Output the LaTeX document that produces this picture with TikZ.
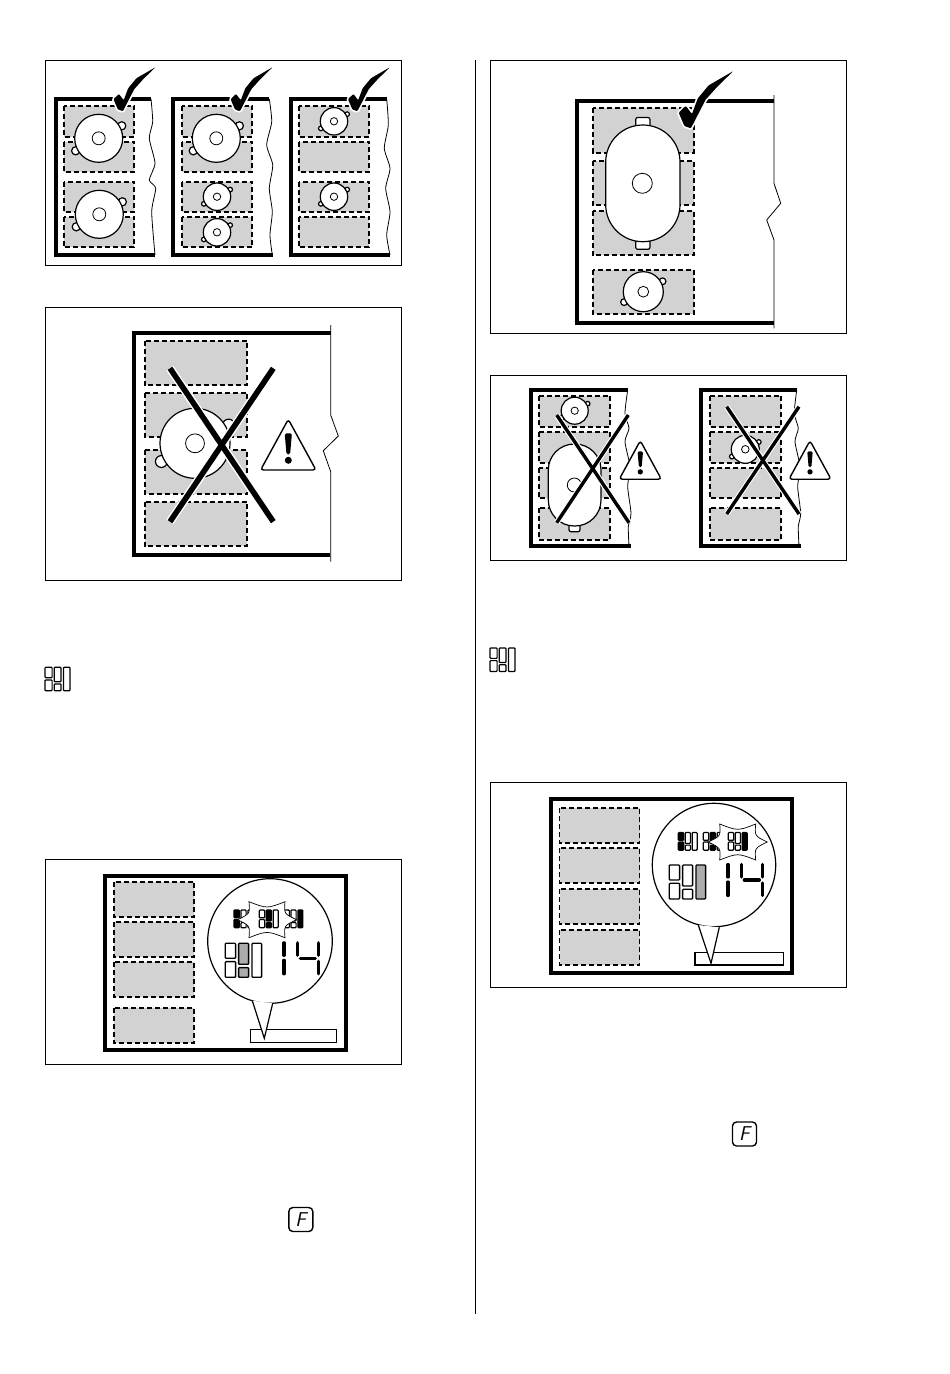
\documentclass[tikz,border=0pt]{standalone}
\definecolor{zonegrey}{RGB}{210,210,210}
\definecolor{icongrey}{RGB}{172,172,172}
\tikzset{
  boxframe/.style={draw=black, line width=0.8pt},
  hobline/.style={draw=black, line width=4pt},
  cutline/.style={draw=black, line width=0.8pt},
  zone/.style={draw=black, fill=zonegrey, line width=1.7pt, dash pattern=on 5pt off 3pt},
  panline/.style={draw=black, fill=white, line width=1.2pt},
  crosshalo/.style={draw=white, line cap=square},
  crossbar/.style={draw=black},
  tickmark/.style={fill=black, rounded corners=1pt, preaction={draw=white, line width=3.4pt}},
  segline/.style={draw=black, line width=3.3pt, line cap=round},
  iconpart/.style={draw=black, rounded corners=0.8pt},
  fkey/.style={draw=black, line width=1.4pt, rounded corners=4pt, minimum width=24pt, minimum height=24pt,
    inner sep=0pt, font=\fontsize{20}{20}\selectfont\sffamily\itshape},
}
\newcommand{\pan}[2]{
  \begin{scope}[shift={(#1)}]
    \draw[panline] ({.96*#2},{-.52*#2}) circle[radius={.17*#2}];
    \draw[panline] ({-.96*#2},{.52*#2}) circle[radius={.17*#2}];
    \draw[panline] (0,0) circle[radius=#2];
    \draw[panline, line width=0.8pt] (0,0) circle[radius={.27*#2}];
  \end{scope}
}
\newcommand{\tick}[2]{
  \begin{scope}[shift={(#1)}, scale=#2]
    \path[tickmark] (-8.7,-12) -- (-3.3,-17.3) -- (1.5,-11) -- (6,-23) -- (14.3,-33) -- (33.3,-44)
      -- (21,-32) -- (12,-22) -- (0.7,0) -- (-4.3,-1.7) -- cycle;
  \end{scope}
}
\newcommand{\warning}[2]{
  \begin{scope}[shift={(#1)}, scale=#2]
    \draw[draw=black, fill=white, line width=1.4pt, rounded corners=3pt] (0,0) -- (27.7,50.7) -- (-27.7,50.7) -- cycle;
    \fill[black, rounded corners=1.5pt] (-3.6,14) -- (3.6,14) -- (1.8,35) -- (-1.8,35) -- cycle;
    \fill[black] (0,41) circle[radius=3.5];
  \end{scope}
}
% #1 origin, #2 scale, #3 line width, #4-#8 fills
\newcommand{\zoneicon}[8]{
  \begin{scope}[shift={(#1)}, scale=#2, line width=#3]
    \draw[iconpart, fill=#4] (0,0) rectangle (10.3,15);
    \draw[iconpart, fill=#5] (0,18.3) rectangle (10.3,34);
    \draw[iconpart, fill=#6] (13.3,0) rectangle (23.3,21);
    \draw[iconpart, fill=#7] (13.3,24.3) rectangle (23.3,34);
    \draw[iconpart, fill=#8] (26.7,0) rectangle (36.3,34);
  \end{scope}
}
\newcommand{\burst}[1]{
  \begin{scope}[shift={(#1)}]
    \draw[black, fill=white, line width=0.7pt] (-18,-18) .. controls (0,-11) .. (18,-18)
      .. controls (17,-6) .. (29.5,0) .. controls (17,6) .. (18,18)
      .. controls (0,11) .. (-18,18) .. controls (-17,6) .. (-29.5,0)
      .. controls (-17,-6) .. cycle;
  \end{scope}
}
\newcommand{\fourteen}[1]{
  \begin{scope}[shift={(#1)}]
    \draw[segline] (58.7,0.5) -- (58.7,13);
    \draw[segline] (58.7,18) -- (58.7,31.5);
    \draw[segline] (72.2,0.5) -- (72.2,13);
    \draw[segline] (75,16) -- (90,16);
    \draw[segline] (93,0.5) -- (93,13);
    \draw[segline] (93,19) -- (93,31.5);
  \end{scope}
}
\begin{document}
\begin{tikzpicture}[x=1pt, y=-1pt]
  \useasboundingbox (0,0) rectangle (950,1374);

  \draw[draw=black, line width=0.7pt] (475.5,60) -- (475.5,1314);

  % frames
  \draw[boxframe] (45,60) rectangle (401,265);
  \draw[boxframe] (45,307) rectangle (401,580);
  \draw[boxframe] (45,859) rectangle (401,1064);
  \draw[boxframe] (490,60) rectangle (846,333);
  \draw[boxframe] (490,375) rectangle (846,560);
  \draw[boxframe] (490,782) rectangle (846,987);

  % three good hobs
  \foreach \xa/\xb in {64/134.3, 181.7/252.3, 299/369.3}
    \foreach \ya/\yb in {105.7/136.7, 141.7/171.7, 181.7/211.7, 216.7/247.3}
      \draw[zone] (\xa,\ya) rectangle (\xb,\yb);
  \pan{98.7,138.3}{24}
  \pan{99.3,214.3}{24}
  \pan{216.3,138.3}{24}
  \pan{217,196.7}{13.7}
  \pan{217,232.3}{13.7}
  \pan{334,121.3}{13.7}
  \pan{334,196.7}{13.7}
  \draw[hobline] (151,99) -- (55.5,99) -- (55.5,255) -- (155,255);
  \draw[hobline] (269,99) -- (172.7,99) -- (172.7,255) -- (273,255);
  \draw[hobline] (386.7,99) -- (290.7,99) -- (290.7,255) -- (390,255);
  \draw[cutline] plot[smooth, tension=0.4] coordinates {(151,99) (152.7,121.7) (149.3,138.3) (155,163.3) (149.3,180) (155.7,188.3) (151.7,211.7) (155,255)};
  \draw[cutline] plot[smooth, tension=0.4] coordinates {(269.3,99) (271.7,121.7) (266.7,145) (272.7,165) (269.3,188.3) (272.3,211.7) (270,235) (272.3,255)};
  \draw[cutline] plot[smooth, tension=0.4] coordinates {(386.7,99) (388.3,125) (384.3,148.3) (390,168.3) (385.7,188.3) (390,211.7) (386.7,235) (390,255)};
  \tick{122.2,111.2}{1}
  \tick{239.3,111.2}{1}
  \tick{356.7,111.2}{1}

  % bad pan, left column
  \foreach \ya/\yb in {340.7/385, 392.7/436.7, 450/494, 501.7/546}
    \draw[zone] (144.7,\ya) rectangle (247.3,\yb);
  \pan{195,443.3}{35}
  \draw[hobline] (330.7,332.7) -- (134,332.7) -- (134,555) -- (330,555);
  \draw[cutline] (330.7,325) -- (330.7,415) -- (338.3,436) -- (323.3,450.7) -- (330.7,471.7) -- (330.7,561.7);
  \coordinate (cA) at (170,368.3);
  \coordinate (cB) at (273.3,521.7);
  \coordinate (cC) at (273.3,368.3);
  \coordinate (cD) at (170,521.7);
  \draw[crosshalo, line width=8.5pt] (cA) -- (cB) (cC) -- (cD);
  \draw[crossbar, line width=5.6pt] (cA) -- (cB) (cC) -- (cD);
  \warning{288.3,419.3}{1}

  % good oval pan
  \foreach \ya/\yb in {108.3/152.7, 160.7/205, 210.7/255, 270/314}
    \draw[zone] (592.7,\ya) rectangle (694,\yb);
  \draw[panline, rounded corners=2pt] (635.7,117.5) rectangle (650,127);
  \draw[panline, rounded corners=2pt] (635.7,240) rectangle (650,249.3);
  \draw[panline, rounded corners=37pt] (605.7,125) rectangle (680,241.7);
  \draw[panline, line width=0.8pt] (642.3,183.3) circle[radius=10];
  \pan{643.3,291.7}{20}
  \draw[hobline] (774,101) -- (576.7,101) -- (576.7,323.3) -- (774,323.3);
  \draw[cutline] (774,95) -- (774,183.3) -- (780.7,203.3) -- (766.7,220) -- (774,240) -- (774,328.3);
  \tick{690,128.3}{1.3}

  % two bad hobs, right column
  \foreach \xa/\xb in {539/610.3, 709.7/781.3}
    \foreach \ya/\yb in {395.7/426.7, 431.7/462.7, 467.7/498.3, 508.3/540}
      \draw[zone] (\xa,\ya) rectangle (\xb,\yb);
  \pan{574.7,410.7}{13.5}
  \draw[panline, rounded corners=2pt] (569,524) rectangle (580,531.7);
  \draw[panline, rounded corners=26pt] (548.3,444) rectangle (601,526);
  \draw[panline, line width=0.8pt] (574.3,485) circle[radius=7];
  \pan{745.3,449.3}{14}
  \draw[hobline] (627.7,390) -- (531,390) -- (531,545.7) -- (631,545.7);
  \draw[hobline] (797.3,390) -- (700.7,390) -- (700.7,545.7) -- (800.7,545.7);
  \draw[cutline] plot[smooth, tension=0.4] coordinates {(627.7,390) (625,413.3) (629,428.3) (625,441.7) (630,466.7) (627.7,486.7) (631,513.3) (628.3,526.7) (629,545.7)};
  \draw[cutline] plot[smooth, tension=0.4] coordinates {(796.7,390) (794.3,413.3) (798.3,428.3) (795,441.7) (800,466.7) (797.7,486.7) (800.7,513.3) (798.3,526.7) (799,545.7)};
  \coordinate (dA) at (556.7,415);
  \coordinate (dB) at (629,522.7);
  \coordinate (dC) at (628.3,415);
  \coordinate (dD) at (556.7,522.7);
  \coordinate (eA) at (726.7,406.7);
  \coordinate (eB) at (799,514);
  \coordinate (eC) at (799,406.7);
  \coordinate (eD) at (726.7,514);
  \draw[crosshalo, line width=5.6pt] (dA) -- (dB) (dC) -- (dD) (eA) -- (eB) (eC) -- (eD);
  \draw[crossbar, line width=3.4pt] (dA) -- (dB) (dC) -- (dD) (eA) -- (eB) (eC) -- (eD);
  \warning{640.3,440.7}{0.76}
  \warning{810,440.7}{0.76}

  % display, left column
  \foreach \ya/\yb in {881.7/917, 921.7/957, 962.3/997.3, 1007.7/1042.7}
    \draw[zone] (114,\ya) rectangle (194,\yb);
  \draw[black, line width=4pt] (105.3,876) rectangle (346,1049.7);
  \draw[draw=black, line width=1.5pt] (250.7,1029.7) rectangle (336.7,1042.3);
  \coordinate (baseA) at (252.3,1000.7);
  \coordinate (baseB) at (272.7,1003.3);
  \coordinate (tipA) at (264.3,1038.3);
  \draw[panline] (270,941) circle[radius=62.3];
  \fill[white] (baseA) -- (tipA) -- (baseB) -- cycle;
  \draw[draw=black, line width=1.2pt] (baseA) -- (tipA) -- (baseB);
  \zoneicon{234,910}{0.52}{1.2pt}{black}{black}{white}{white}{white}
  \zoneicon{284,910}{0.52}{1.2pt}{white}{white}{white}{white}{black}
  \burst{267,919.7}
  \zoneicon{259.3,910}{0.52}{1.2pt}{white}{white}{black}{black}{white}
  \zoneicon{225.3,943.3}{1}{1.3pt}{white}{white}{icongrey}{icongrey}{white}
  \fourteen{225.3,942.3}

  % display, right column
  \foreach \ya/\yb in {808/843, 848/883, 889/924, 930/965}
    \draw[zone] (559.5,\ya) rectangle (639.5,\yb);
  \draw[black, line width=4pt] (551,799) rectangle (791.5,972.5);
  \draw[draw=black, line width=1.5pt] (695,952.7) rectangle (783.3,965);
  \coordinate (baseC) at (698.3,925);
  \coordinate (baseD) at (719.3,927.3);
  \coordinate (tipB) at (711,963.3);
  \draw[panline] (714,865) circle[radius=61.7];
  \fill[white] (baseC) -- (tipB) -- (baseD) -- cycle;
  \draw[draw=black, line width=1.2pt] (baseC) -- (tipB) -- (baseD);
  \zoneicon{678.3,832.5}{0.52}{1.2pt}{black}{black}{white}{white}{white}
  \zoneicon{703.3,832.5}{0.52}{1.2pt}{white}{white}{black}{black}{white}
  \burst{737.7,842}
  \zoneicon{728.3,832.5}{0.52}{1.2pt}{white}{white}{white}{white}{black}
  \zoneicon{669.3,865}{1}{1.3pt}{white}{white}{white}{white}{icongrey}
  \fourteen{669.3,864}

  % text symbols
  \zoneicon{45,667.3}{0.69}{1.2pt}{white}{white}{white}{white}{white}
  \zoneicon{490,648}{0.69}{1.2pt}{white}{white}{white}{white}{white}
  \node[fkey] (keyF) at (300.8,1219.5) {F};
  \node[fkey] (keyG) at (744.5,1134) {F};
\end{tikzpicture}
\end{document}
